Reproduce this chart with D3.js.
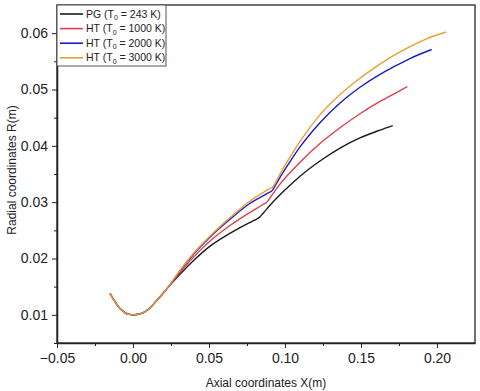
<!DOCTYPE html>
<html>
<head>
<meta charset="utf-8">
<script src="https://cdn.jsdelivr.net/npm/d3@7"></script>
<style>
  body { margin: 0; background: #fff; }
  svg { font-family: Arial, "Liberation Sans", sans-serif; }
  .axis path, .axis line { stroke: #222; }
  .axis text { font-size: 14px; fill: #222; }
</style>
</head>
<body>
<div id="chart"></div>
<script>
var width = 480;
var height = 391;
var margin = { top: 5, right: 5, bottom: 48, left: 57 };

// shared converging + throat section (x, R in metres)
var commonX = [-0.0151, -0.0125, -0.01, -0.0075, -0.005, -0.0025, 0, 0.0025, 0.005, 0.0075, 0.01, 0.0125, 0.015, 0.0178, 0.02, 0.0222];
var commonR = [0.0138, 0.0126, 0.0116, 0.01085, 0.01035, 0.01008, 0.0100, 0.01005, 0.0102, 0.0105, 0.01095, 0.0116, 0.01235, 0.0132, 0.0139, 0.0146];

var pgX = [0.0309, 0.0397, 0.0507, 0.064, 0.077, 0.080, 0.0831, 0.0855, 0.09, 0.0967, 0.1033, 0.1099, 0.123, 0.1362, 0.1493, 0.1625, 0.1709];
var pgR = [0.0172, 0.0196, 0.0222, 0.0245, 0.0264, 0.0268, 0.0273, 0.0280, 0.0294, 0.0313, 0.0330, 0.0346, 0.0373, 0.0396, 0.0414, 0.0428, 0.0436];

var ht1000X = [0.0309, 0.0397, 0.0507, 0.064, 0.077, 0.085, 0.088, 0.0905, 0.0967, 0.1099, 0.123, 0.1362, 0.1493, 0.1625, 0.1757, 0.1805];
var ht1000R = [0.0175, 0.0202, 0.0231, 0.0259, 0.0282, 0.0295, 0.0300, 0.0309, 0.0332, 0.0371, 0.0404, 0.0432, 0.0457, 0.0479, 0.0498, 0.0505];

var ht2000X = [0.0309, 0.0397, 0.0507, 0.064, 0.077, 0.0887, 0.0917, 0.0939, 0.0967, 0.1033, 0.1099, 0.123, 0.1362, 0.1493, 0.1625, 0.1713, 0.1822, 0.1965];
var ht2000R = [0.0178, 0.0207, 0.0238, 0.0270, 0.0298, 0.0316, 0.0321, 0.0331, 0.0344, 0.0372, 0.0398, 0.0441, 0.0476, 0.0504, 0.0527, 0.0540, 0.0555, 0.0571];

var ht3000X = [0.0309, 0.0397, 0.0507, 0.064, 0.077, 0.0893, 0.0923, 0.0945, 0.0967, 0.1033, 0.1099, 0.123, 0.1362, 0.1493, 0.1603, 0.1713, 0.1822, 0.1932, 0.2059];
var ht3000R = [0.0179, 0.0209, 0.0240, 0.0273, 0.0302, 0.0323, 0.0328, 0.0339, 0.0350, 0.0380, 0.0408, 0.0455, 0.0491, 0.0520, 0.0541, 0.0560, 0.0576, 0.0590, 0.0602];

var names = ["PG", "HT", "HT", "HT"];
var temps = ["243", "1000", "2000", "3000"];
var colors = ["#1a1a1a", "#e0404c", "#1c1cc4", "#e8a032"];

var xTicks = [-0.05, 0, 0.05, 0.10, 0.15, 0.20];
var yTicks = [0.01, 0.02, 0.03, 0.04, 0.05, 0.06];

function pairs(xs, rs) {
  return xs.map(function(x, i) { return [x, rs[i]]; });
}

var common = pairs(commonX, commonR);
var series = [
  common.concat(pairs(pgX, pgR)),
  common.concat(pairs(ht1000X, ht1000R)),
  common.concat(pairs(ht2000X, ht2000R)),
  common.concat(pairs(ht3000X, ht3000R))
];

var x = d3.scaleLinear().domain([-0.05, 0.225]).range([margin.left, width - margin.right]);
var y = d3.scaleLinear().domain([0.005, 0.065]).range([height - margin.bottom, margin.top]);

var svg = d3.select("#chart").append("svg")
  .attr("width", width)
  .attr("height", height);

// frame
svg.append("rect")
  .attr("x", margin.left)
  .attr("y", margin.top)
  .attr("width", width - margin.left - margin.right)
  .attr("height", height - margin.top - margin.bottom)
  .attr("fill", "none")
  .attr("stroke", "#444")
  .attr("stroke-width", 1.5);

// minor ticks
svg.append("g")
  .attr("class", "axis")
  .attr("transform", "translate(0," + (height - margin.bottom) + ")")
  .call(d3.axisBottom(x).tickValues(d3.range(-0.025, 0.225, 0.05)).tickSize(3).tickFormat(""))
  .select(".domain").remove();

svg.append("g")
  .attr("class", "axis")
  .attr("transform", "translate(" + margin.left + ",0)")
  .call(d3.axisLeft(y).tickValues(d3.range(0.005, 0.065, 0.01)).tickSize(3).tickFormat(""))
  .select(".domain").remove();

var xAxis = svg.append("g")
  .attr("class", "axis")
  .attr("transform", "translate(0," + (height - margin.bottom) + ")")
  .call(d3.axisBottom(x).tickValues(xTicks).tickSize(5).tickSizeOuter(0).tickPadding(5).tickFormat(d3.format(".2f")));
xAxis.select(".domain").attr("stroke-width", 1.5);
xAxis.selectAll("text").text(function(d) { return d < 0 ? "\u22120.05" : d3.format(".2f")(d); });

var yAxis = svg.append("g")
  .attr("class", "axis")
  .attr("transform", "translate(" + margin.left + ",0)")
  .call(d3.axisLeft(y).tickValues(yTicks).tickSize(5).tickSizeOuter(0).tickPadding(4).tickFormat(d3.format(".2f")));
yAxis.select(".domain").attr("stroke-width", 1.5);

// axis titles
svg.append("text")
  .attr("x", 266)
  .attr("y", 387)
  .attr("text-anchor", "middle")
  .style("font-size", "12px")
  .attr("fill", "#222")
  .text("Axial coordinates X(m)");

svg.append("text")
  .attr("transform", "translate(16,170) rotate(-90)")
  .attr("text-anchor", "middle")
  .style("font-size", "12px")
  .attr("fill", "#222")
  .text("Radial coordinates R(m)");

// curves
var line = d3.line()
  .x(function(d) { return x(d[0]); })
  .y(function(d) { return y(d[1]); })
  .curve(d3.curveMonotoneX);

svg.append("g")
  .selectAll("path")
  .data(series)
  .enter().append("path")
  .attr("d", line)
  .attr("fill", "none")
  .attr("stroke", function(d, i) { return colors[i]; })
  .attr("stroke-width", 1.4);

// legend
var legend = svg.append("g").attr("transform", "translate(" + margin.left + "," + margin.top + ")");

legend.append("rect")
  .attr("x", 0)
  .attr("y", 0)
  .attr("width", 109)
  .attr("height", 61)
  .attr("fill", "#fff")
  .attr("stroke", "#555")
  .attr("stroke-width", 1);

var rows = legend.selectAll(".row")
  .data(names)
  .enter().append("g")
  .attr("class", "row")
  .attr("transform", function(d, i) { return "translate(0," + (9 + i * 14.6) + ")"; });

rows.append("line")
  .attr("x1", 3)
  .attr("x2", 26)
  .attr("stroke", function(d, i) { return colors[i]; })
  .attr("stroke-width", 1.6);

var label = rows.append("text")
  .attr("x", 29)
  .attr("dy", "0.35em")
  .style("font-size", "10.5px")
  .attr("fill", "#222");

label.append("tspan").text(function(d) { return d + " (T"; });
label.append("tspan").attr("dy", 2.5).style("font-size", "7px").text("0");
label.append("tspan").attr("dy", -2.5).text(function(d, i) { return " = " + temps[i] + " K)"; });
</script>
</body>
</html>
